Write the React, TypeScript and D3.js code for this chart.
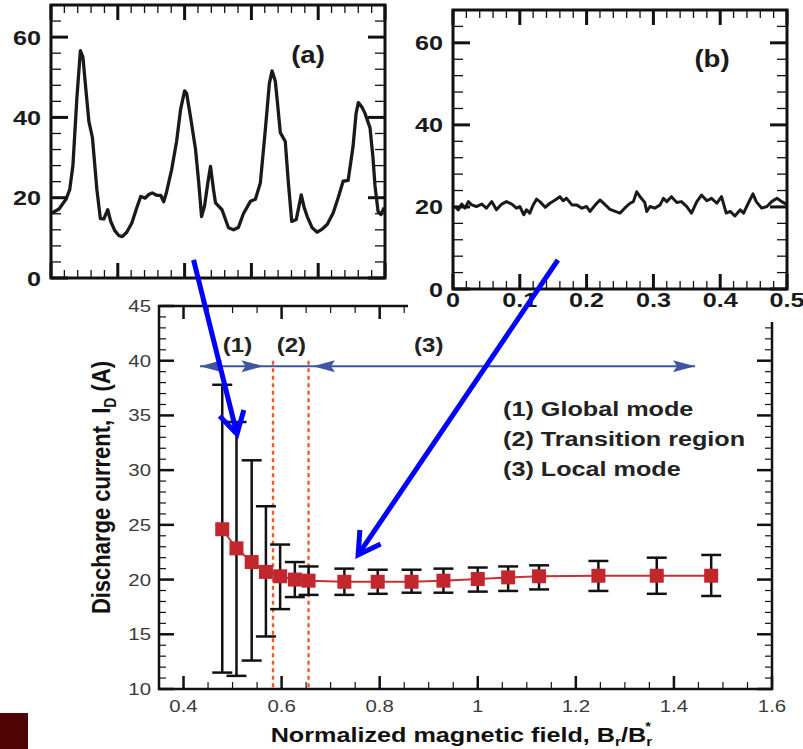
import React from "react";
import * as d3 from "d3";

// ---------- Data ----------
// Panel (a): global mode discharge current trace (time, A)
const timeA = [0.0015, 0.012, 0.0224, 0.028, 0.0328, 0.0388, 0.044, 0.0478, 0.0522, 0.0567, 0.062, 0.0687, 0.0739, 0.079, 0.085, 0.0896, 0.0955, 0.1015, 0.1067, 0.1134, 0.121, 0.1284, 0.1343, 0.141, 0.1463, 0.1515, 0.1582, 0.1642, 0.1687, 0.1731, 0.1806, 0.188, 0.194, 0.2, 0.203, 0.209, 0.2164, 0.221, 0.2254, 0.2299, 0.235, 0.2388, 0.2433, 0.2463, 0.256, 0.2657, 0.2731, 0.2806, 0.288, 0.2985, 0.306, 0.3134, 0.3209, 0.3269, 0.3309, 0.3358, 0.3388, 0.3433, 0.3507, 0.3552, 0.3604, 0.3672, 0.3746, 0.3791, 0.3836, 0.391, 0.3985, 0.406, 0.4134, 0.4224, 0.4299, 0.4373, 0.4448, 0.4522, 0.4567, 0.4601, 0.4657, 0.4701, 0.4776, 0.482, 0.485, 0.4896, 0.494, 0.4985];
const currentA = [16.2, 17.2, 19.6, 22, 28, 45, 56.6, 55, 47, 39, 35, 22, 14.8, 14.7, 17, 14, 11.8, 10.6, 10.3, 11.4, 13.7, 17.5, 20.3, 19.9, 20.8, 21.2, 20.6, 20.6, 19, 21.5, 27, 34, 42, 46.6, 46, 40, 32, 24, 15.3, 18, 24, 27.8, 22, 18.7, 17, 12.5, 12, 12.6, 16, 19.1, 19.6, 23.7, 37, 48.5, 51.6, 49, 44, 36.2, 34, 24, 14.1, 14.6, 20.7, 17.5, 15.3, 12.5, 11.4, 12.2, 13.3, 16.2, 20, 24.1, 24.3, 32.8, 41, 43.7, 42.5, 41, 37.4, 30, 23, 16.6, 15.8, 17.5];

// Panel (b): local mode discharge current trace (time, A)
const timeB = [0.003, 0.008, 0.013, 0.018, 0.023, 0.028, 0.035, 0.043, 0.05, 0.058, 0.065, 0.073, 0.08, 0.088, 0.095, 0.1, 0.106, 0.11, 0.115, 0.12, 0.125, 0.13, 0.138, 0.145, 0.153, 0.16, 0.165, 0.17, 0.178, 0.185, 0.193, 0.2, 0.205, 0.213, 0.22, 0.228, 0.235, 0.243, 0.25, 0.257, 0.265, 0.27, 0.275, 0.28, 0.287, 0.29, 0.295, 0.302, 0.31, 0.315, 0.32, 0.327, 0.335, 0.342, 0.35, 0.357, 0.365, 0.372, 0.38, 0.387, 0.395, 0.402, 0.409, 0.415, 0.422, 0.43, 0.435, 0.442, 0.449, 0.454, 0.462, 0.47, 0.477, 0.485, 0.492, 0.499];
const currentB = [20.1, 19.3, 20.7, 19.7, 21.3, 20.5, 20.1, 20.7, 19.7, 21.3, 19.3, 20.7, 21.3, 20.7, 19.7, 20.1, 18.1, 19.3, 18.5, 20.5, 21.9, 21.3, 19.9, 20.9, 21.7, 22.5, 21.5, 22.1, 20.5, 20.5, 19.7, 20.1, 18.9, 20.5, 21.7, 20.5, 19.4, 18.9, 18.5, 19.7, 20.9, 21.3, 23.7, 22.5, 21.1, 18.9, 20.1, 19.7, 20.5, 22.1, 21.3, 22.5, 21.1, 21.3, 20.1, 18.5, 21.3, 22.9, 21.5, 22.1, 20.9, 22.5, 18.5, 18.9, 17.8, 19.3, 18.5, 20.9, 23.2, 21.3, 19.7, 20.1, 21.3, 22.1, 21.3, 20.7];

// Main chart: discharge current vs normalized magnetic field
const fieldRatio = [0.479, 0.508, 0.539, 0.568, 0.597, 0.627, 0.655, 0.728, 0.796, 0.865, 0.93, 1.0, 1.062, 1.125, 1.246, 1.365, 1.476];
const meanCurrent = [24.6, 22.85, 21.6, 20.7, 20.3, 20.0, 19.9, 19.8, 19.8, 19.8, 19.9, 20.05, 20.2, 20.3, 20.35, 20.35, 20.35];
const currentHigh = [37.8, 34.4, 30.9, 26.7, 23.2, 21.6, 21.2, 21.0, 20.9, 20.9, 21.0, 21.1, 21.2, 21.3, 21.7, 22.0, 22.25];
const currentLow = [11.5, 11.2, 12.6, 14.8, 17.3, 18.4, 18.6, 18.6, 18.7, 18.8, 18.8, 18.9, 18.96, 19.1, 18.96, 18.7, 18.5];

const panelYTickLabels = [0, 20, 40, 60];
const panelXTickLabels = [0, 0.1, 0.2, 0.3, 0.4, 0.5];
const mainXTickLabels = [0.4, 0.6, 0.8, 1, 1.2, 1.4, 1.6];
const mainYTickLabels = [10, 15, 20, 25, 30, 35, 40, 45];
const boundaries = [0.5825, 0.655];
const regionLabels = ["(1)", "(2)", "(3)"];
const regionLabelX = [0.51, 0.62, 0.9];
const legendLines = ["(1) Global mode", "(2) Transition region", "(3) Local mode"];
const modeArrowY = 39.5;
const modeArrowHeads = [
  { x: 0.4336, dir: -1 },
  { x: 0.563, dir: 1 },
  { x: 0.664, dir: -1 },
  { x: 1.443, dir: 1 },
];

// ---------- Layout ----------
const W = 803;
const H = 749;
const FONT = "'Liberation Sans', Arial, Helvetica, sans-serif";
const SX = 1.2;

const xA = d3.scaleLinear().domain([0, 0.5]).range([51, 385]);
const yA = d3.scaleLinear().domain([0, 68]).range([278, 5]);
const xB = d3.scaleLinear().domain([0, 0.5]).range([453, 787]);
const yB = d3.scaleLinear().domain([0, 68]).range([289, 10]);
const xM = d3.scaleLinear().domain([0.35, 1.6]).range([159, 772]);
const yM = d3.scaleLinear().domain([10, 45]).range([689, 306]);

function T({ x, y, children, anchor = "start", size = 17, weight = "normal", fill = "#000", sx = SX }: any) {
  return (
    <text
      transform={`translate(${x},${y}) scale(${sx},1)`}
      textAnchor={anchor}
      fontSize={size}
      fontWeight={weight}
      fill={fill}
      fontFamily={FONT}
    >
      {children}
    </text>
  );
}

function Panel({ xs, ys, t, v, label, showX, lw }: any) {
  const [x0, x1] = xs.range();
  const [y0, y1] = ys.range(); // y0 bottom, y1 top
  const line = d3
    .line<number>()
    .x((_, i) => xs(t[i]))
    .y((d) => ys(d));
  const yTicks = d3.range(0, 69, 4);
  const xTicks = d3.range(0, 26).map((i) => i * 0.02);
  return (
    <g>
      <path d={line(v) || ""} fill="none" stroke="#1a1a1a" strokeWidth={lw} strokeLinejoin="round" />
      {yTicks.map((val) => {
        const major = val % 20 === 0;
        const L = major ? 17 : 10;
        const yy = ys(val);
        return (
          <g key={"y" + val}>
            <line x1={x0} x2={x0 + L} y1={yy} y2={yy} stroke="#111" strokeWidth={major ? 3 : 1.3} />
            <line x1={x1} x2={x1 - L} y1={yy} y2={yy} stroke="#111" strokeWidth={major ? 3 : 1.3} />
          </g>
        );
      })}
      {xTicks.map((val, i) => {
        const major = i % 5 === 0;
        const L = major ? 15 : 8;
        const xx = xs(val);
        return (
          <g key={"x" + i}>
            <line x1={xx} x2={xx} y1={y0} y2={y0 - L} stroke="#111" strokeWidth={major ? 3 : 1.3} />
            <line x1={xx} x2={xx} y1={y1} y2={y1 + L} stroke="#111" strokeWidth={major ? 3 : 1.3} />
          </g>
        );
      })}
      <rect x={x0} y={y1} width={x1 - x0} height={y0 - y1} fill="none" stroke="#111" strokeWidth={3} />
      {panelYTickLabels.map((val) => (
        <T key={"yl" + val} x={x0 - 10} y={ys(val) + 7.5} anchor="end" size={21} weight="bold" fill="#1a1a1a">
          {val}
        </T>
      ))}
      {showX &&
        panelXTickLabels.map((val) => (
          <T key={"xl" + val} x={xs(val)} y={y0 + 18} anchor="middle" size={21} weight="bold" fill="#1a1a1a">
            {String(val)}
          </T>
        ))}
      <T x={label.x} y={label.y} anchor="middle" size={23} weight="bold" fill="#1a1a1a">
        {label.text}
      </T>
    </g>
  );
}

function BlueArrow({ from, to }: any) {
  const [sx, sy] = from;
  const [tx, ty] = to;
  const ang = Math.atan2(sy - ty, sx - tx);
  const len = 25;
  const a1 = ang + Math.PI / 6;
  const a2 = ang - Math.PI / 6;
  return (
    <g stroke="#0000ff" strokeWidth={5} fill="none" strokeLinecap="butt">
      <line x1={sx} y1={sy} x2={tx} y2={ty} />
      <polyline
        points={`${tx + len * Math.cos(a1)},${ty + len * Math.sin(a1)} ${tx},${ty} ${tx + len * Math.cos(a2)},${ty + len * Math.sin(a2)}`}
        strokeLinejoin="miter"
      />
    </g>
  );
}

export default function App() {
  const [mx0, mx1] = xM.range();
  const [my0, my1] = yM.range();
  const mainLine = d3
    .line<number>()
    .x((_, i) => xM(fieldRatio[i]))
    .y((d) => yM(d));
  const yMinor = d3.range(10, 46, 1);
  const xMinor = d3.range(0, 26).map((i) => 0.35 + i * 0.05);
  const arrowY = yM(modeArrowY);
  const headLen = 22;
  const headHalf = 6;

  return (
    <svg
      width={W}
      height={H}
      viewBox={`0 0 ${W} ${H}`}
      style={{ position: "absolute", left: 0, top: 0, background: "#fff" }}
    >
      <rect x={0} y={0} width={W} height={H} fill="#fff" />

      {/* Panel (a) */}
      <Panel xs={xA} ys={yA} t={timeA} v={currentA} lw={3.3} label={{ text: "(a)", x: 308, y: 63 }} showX={false} />

      {/* Main chart */}
      <g>
        <rect x={0} y={289} width={W} height={H - 289} fill="#fff" />
        {boundaries.map((b) => (
          <line
            key={"b" + b}
            x1={xM(b)}
            x2={xM(b)}
            y1={yM(40)}
            y2={my0}
            stroke="#ec5a2c"
            strokeWidth={2.4}
            strokeDasharray="4,3.5"
          />
        ))}
        <line x1={xM(modeArrowHeads[0].x)} x2={xM(modeArrowHeads[3].x)} y1={arrowY} y2={arrowY} stroke="#3f54a2" strokeWidth={2} />
        {modeArrowHeads.map((h, i) => {
          const tip = xM(h.x);
          const base = tip - h.dir * headLen;
          return (
            <polygon
              key={"h" + i}
              points={`${tip},${arrowY} ${base},${arrowY - headHalf} ${base + h.dir * 4},${arrowY} ${base},${arrowY + headHalf}`}
              fill="#3f54a2"
            />
          );
        })}
        {regionLabels.map((r, i) => (
          <T key={r} x={xM(regionLabelX[i])} y={352} anchor="middle" size={20} weight="bold" fill="#222">
            {r}
          </T>
        ))}
        {legendLines.map((l, i) => (
          <T key={l} x={503} y={416 + i * 30} size={21} weight="bold" fill="#222">
            {l}
          </T>
        ))}
        {fieldRatio.map((f, i) => {
          const cx = xM(f);
          return (
            <g key={"e" + i} stroke="#111" strokeWidth={2.5}>
              <line x1={cx} x2={cx} y1={yM(currentHigh[i])} y2={yM(currentLow[i])} />
              <line x1={cx - 10} x2={cx + 10} y1={yM(currentHigh[i])} y2={yM(currentHigh[i])} />
              <line x1={cx - 10} x2={cx + 10} y1={yM(currentLow[i])} y2={yM(currentLow[i])} />
            </g>
          );
        })}
        <path d={mainLine(meanCurrent) || ""} fill="none" stroke="#cc2e35" strokeWidth={2} />
        {fieldRatio.map((f, i) => (
          <rect key={"s" + i} x={xM(f) - 7} y={yM(meanCurrent[i]) - 7} width={14} height={14} fill="#c1272d" />
        ))}
        {yMinor.map((v) => {
          const major = v % 5 === 0;
          const L = major ? 15 : 7;
          const yy = yM(v);
          return (
            <g key={"my" + v} stroke="#111" strokeWidth={major ? 2.5 : 1.2}>
              <line x1={mx0} x2={mx0 + L} y1={yy} y2={yy} />
              <line x1={mx1} x2={mx1 - L} y1={yy} y2={yy} />
            </g>
          );
        })}
        {xMinor.map((v, i) => {
          const major = (i - 1) % 4 === 0;
          const L = major ? 13 : 7;
          const xx = xM(v);
          return (
            <g key={"mx" + i} stroke="#111" strokeWidth={major ? 2.5 : 1.2}>
              <line x1={xx} x2={xx} y1={my0} y2={my0 - L} />
              <line x1={xx} x2={xx} y1={my1} y2={my1 + L} />
            </g>
          );
        })}
        <rect x={mx0} y={my1} width={mx1 - mx0} height={my0 - my1} fill="none" stroke="#111" strokeWidth={2.5} />
        {mainYTickLabels.map((v) => (
          <T key={"myl" + v} x={151} y={yM(v) + 6} anchor="end" size={17} fill="#3a3a3a">
            {v}
          </T>
        ))}
        {mainXTickLabels.map((v) => (
          <T key={"mxl" + v} x={xM(v)} y={712} anchor="middle" size={17} fill="#3a3a3a">
            {String(v)}
          </T>
        ))}
        <text
          transform={`translate(${(mx0 + mx1) / 2 - 4},742) scale(${SX},1)`}
          textAnchor="middle"
          fontSize={21}
          fontWeight="bold"
          fill="#111"
          fontFamily={FONT}
        >
          Normalized magnetic field, B
          <tspan fontSize={13} dy={4}>r</tspan>
          <tspan dy={-4}>/B</tspan>
          <tspan fontSize={13} dy={4}>r</tspan>
          <tspan fontSize={12} dx={-6} dy={-15}>*</tspan>
        </text>
        <text
          transform={`translate(110,${(my0 + my1) / 2 - 10}) rotate(-90) scale(1,${SX})`}
          textAnchor="middle"
          fontSize={22}
          fontWeight="bold"
          fill="#111"
          fontFamily={FONT}
        >
          Discharge current, I
          <tspan fontSize={14} dy={5}>D</tspan>
          <tspan dy={-5}> (A)</tspan>
        </text>
      </g>

      {/* Panel (b) */}
      <g>
        <rect x={408} y={0} width={W - 408} height={322} fill="#fff" />
        <Panel xs={xB} ys={yB} t={timeB} v={currentB} lw={3} label={{ text: "(b)", x: 712, y: 67 }} showX={true} />
      </g>

      <BlueArrow from={[xA(0.2134), yA(4.5)]} to={[xM(0.509), yM(33.3)]} />
      <BlueArrow from={[xB(0.157), yB(7.07)]} to={[xM(0.756), yM(22.25)]} />

      <rect x={0} y={713} width={28} height={36} fill="#500505" />
    </svg>
  );
}
